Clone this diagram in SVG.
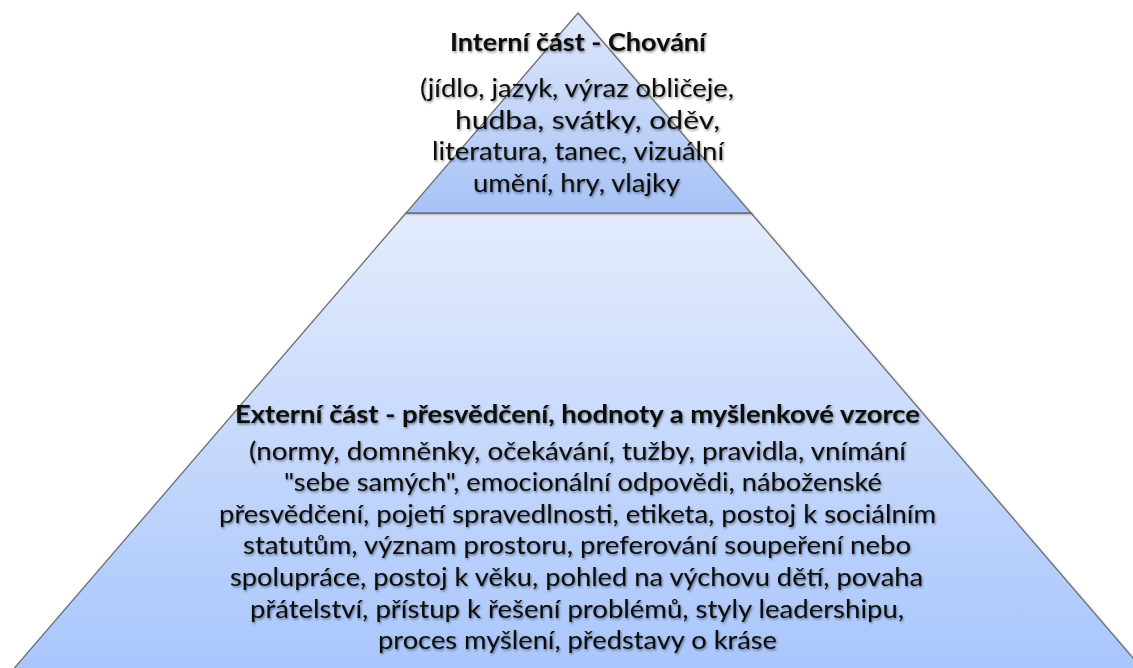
<svg xmlns="http://www.w3.org/2000/svg" width="1133" height="668" viewBox="0 0 1133 668">
  <defs>
    <linearGradient id="gTop" x1="0" y1="13" x2="0" y2="213" gradientUnits="userSpaceOnUse">
      <stop offset="0" stop-color="#dfe8fc"/>
      <stop offset="1" stop-color="#a7c2f6"/>
    </linearGradient>
    <linearGradient id="gBottom" x1="0" y1="213" x2="0" y2="668" gradientUnits="userSpaceOnUse">
      <stop offset="0" stop-color="#e4ecfc"/>
      <stop offset="1" stop-color="#a9c6fc"/>
    </linearGradient>
    <filter id="txtShadow" x="-5%" y="-30%" width="110%" height="160%">
      <feDropShadow dx="1" dy="1.5" stdDeviation="1.3" flood-color="#000" flood-opacity="0.45"/>
    </filter>
    <filter id="shapeShadow" x="-5%" y="-5%" width="110%" height="110%">
      <feDropShadow dx="1" dy="1" stdDeviation="1" flood-color="#000" flood-opacity="0.25"/>
    </filter>
  </defs>
  <style>
    .shape { stroke: #6e6e6e; stroke-width: 1.3; stroke-linejoin: miter; filter: url(#shapeShadow); }
    .t { font-family: Lato, "Noto Sans", "Liberation Sans", sans-serif; font-size: 25px; fill: #0a0a0a; filter: url(#txtShadow); }
    .b { font-weight: bold; font-size: 24.5px; }
  </style>
  <rect width="1133" height="668" fill="#ffffff"/>

  <g id="node-externi">
    <polygon class="shape" points="406,213 751,213 1145,672 11,672" fill="url(#gBottom)"/>
    <text class="t b" x="235" y="423" textLength="685" lengthAdjust="spacingAndGlyphs">Externí část - přesvědčení, hodnoty a myšlenkové vzorce</text>
    <text class="t" x="249" y="459.5" textLength="657" lengthAdjust="spacingAndGlyphs">(normy, domněnky, očekávání, tužby, pravidla, vnímání</text>
    <text class="t" x="284" y="491" textLength="598" lengthAdjust="spacingAndGlyphs">"sebe samých", emocionální odpovědi, náboženské</text>
    <text class="t" x="219" y="522.5" textLength="717" lengthAdjust="spacingAndGlyphs">přesvědčení, pojetí spravedlnosti, etiketa, postoj k sociálním</text>
    <text class="t" x="243" y="554" textLength="668" lengthAdjust="spacingAndGlyphs">statutům, význam prostoru, preferování soupeření nebo</text>
    <text class="t" x="230" y="586" textLength="693" lengthAdjust="spacingAndGlyphs">spolupráce, postoj k věku, pohled na výchovu dětí, povaha</text>
    <text class="t" x="250" y="617.5" textLength="654" lengthAdjust="spacingAndGlyphs">přátelství, přístup k řešení problémů, styly leadershipu,</text>
    <text class="t" x="378" y="649" textLength="399" lengthAdjust="spacingAndGlyphs">proces myšlení, představy o kráse</text>
  </g>

  <g id="node-interni">
    <polygon class="shape" points="578,13 751,213 406,213" fill="url(#gTop)"/>
    <text class="t b" x="450" y="51" textLength="256" lengthAdjust="spacingAndGlyphs">Interní část - Chování</text>
    <text class="t" x="420" y="97" textLength="314" lengthAdjust="spacingAndGlyphs">(jídlo, jazyk, výraz obličeje,</text>
    <text class="t" x="455" y="129" textLength="265" lengthAdjust="spacingAndGlyphs">hudba, svátky, oděv,</text>
    <text class="t" x="432" y="160" textLength="292" lengthAdjust="spacingAndGlyphs">literatura, tanec, vizuální</text>
    <text class="t" x="473" y="191.5" textLength="207" lengthAdjust="spacingAndGlyphs">umění, hry, vlajky</text>
  </g>
</svg>
